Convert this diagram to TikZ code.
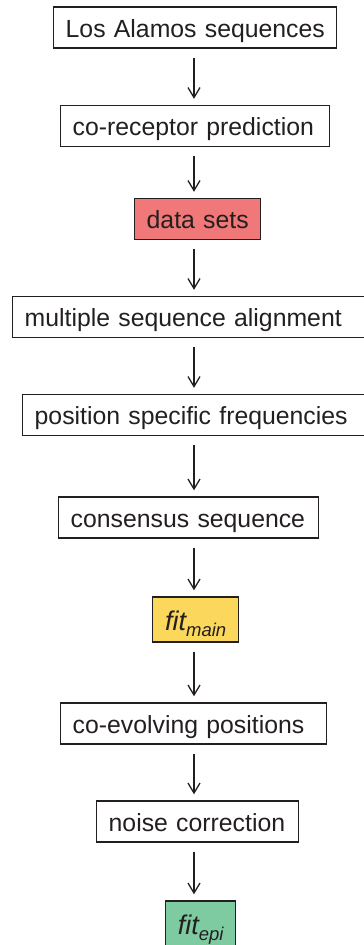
\documentclass[tikz,border=0pt]{standalone}
\usepackage{fontspec}
\setmainfont{Liberation Sans}
\usetikzlibrary{arrows.meta}

\definecolor{inkblack}{RGB}{35,31,32}
\definecolor{setsred}{RGB}{241,120,120}
\definecolor{mainyellow}{RGB}{251,215,92}
\definecolor{epigreen}{RGB}{127,203,161}

\tikzset{
  stage/.style={draw=inkblack, text=inkblack, line width=1.4pt, anchor=west, align=left,
    inner xsep=12pt, inner ysep=0pt, minimum height=41pt, text height=20pt, text depth=1pt,
    font=\fontsize{24.8}{29}\selectfont,
    execute at begin node={\hbox\bgroup}, execute at end node={\egroup}},
  fitbox/.style={stage, align=center, minimum height=45pt, text height=22pt, text depth=0pt},
  flow/.style={draw=inkblack, line width=1.3pt,
    -{Straight Barb[length=10pt,width=12pt,line width=1.3pt]},
    shorten <=9pt, shorten >=6pt},
}
\newcommand{\fitlabel}[1]{\textit{\fontsize{27}{30}\selectfont fit\raisebox{-6pt}{\fontsize{18.5}{20}\selectfont #1}}}

\begin{document}
\begin{tikzpicture}[x=1pt,y=-1pt]
\useasboundingbox (0,0) rectangle (364,945);
\clip (0,0) rectangle (364,945);
\coordinate (spine) at (194,0); % arrow axis

\node[stage, text width=259pt] (lanl) at (53,27.5) {Los Alamos sequences};
\node[stage, text width=245pt] (corec) at (60,126) {co-receptor prediction};
\node[stage, text width=102pt, fill=setsred] (sets) at (134,219) {data sets};
\node[stage, text width=342pt] (msa) at (12,317) {multiple sequence alignment};
\node[stage, text width=334pt] (psf) at (22,415) {position specific frequencies};
\node[stage, text width=236pt] (cons) at (58,517.5) {consensus sequence};
\node[fitbox, minimum width=86pt, fill=mainyellow] (fmain) at (152,619.5) {\fitlabel{main}};
\node[stage, text width=242pt] (coevo) at (60,723.5) {co-evolving positions};
\node[stage, text width=178pt] (noise) at (96,821.5) {noise correction};
\node[fitbox, minimum width=70pt, fill=epigreen] (fepi) at (165,923.5) {\fitlabel{epi}};

\draw[flow] (lanl.south -| spine) -- (corec.north -| spine); % lanl -> corec
\draw[flow] (corec.south -| spine) -- (sets.north -| spine); % corec -> sets
\draw[flow] (sets.south -| spine) -- (msa.north -| spine); % sets -> msa
\draw[flow] (msa.south -| spine) -- (psf.north -| spine); % msa -> psf
\draw[flow] (psf.south -| spine) -- (cons.north -| spine); % psf -> cons
\draw[flow] (cons.south -| spine) -- (fmain.north -| spine); % cons -> fmain
\draw[flow] (fmain.south -| spine) -- (coevo.north -| spine); % fmain -> coevo
\draw[flow] (coevo.south -| spine) -- (noise.north -| spine); % coevo -> noise
\draw[flow] (noise.south -| spine) -- (fepi.north -| spine); % noise -> fepi
\end{tikzpicture}
\end{document}
